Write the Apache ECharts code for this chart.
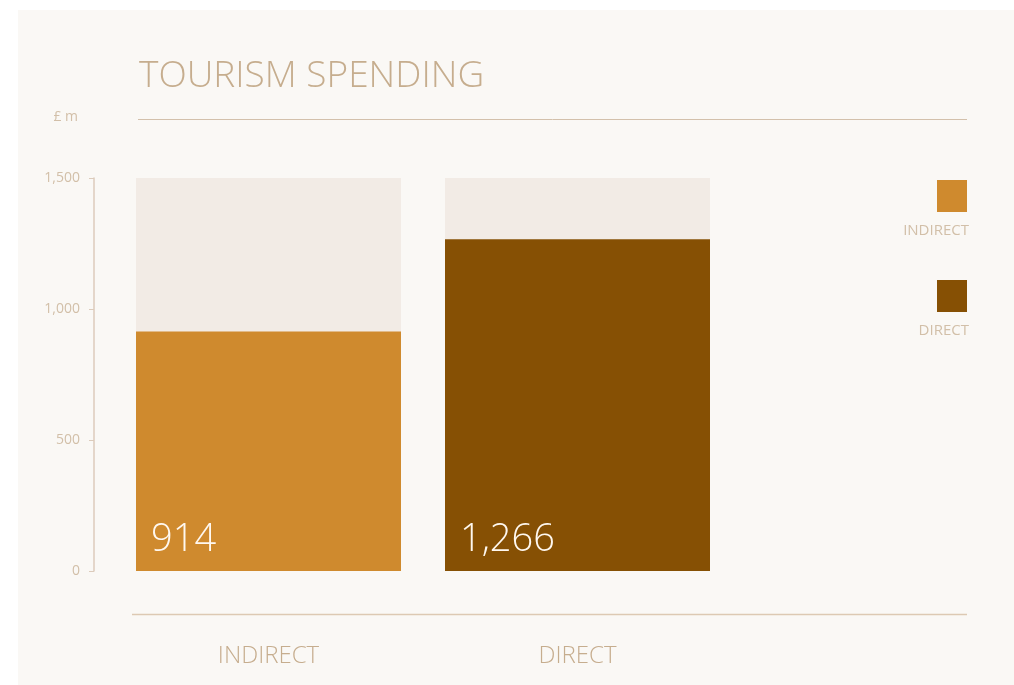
<!DOCTYPE html>
<html>
<head>
<meta charset="utf-8">
<script src="https://cdn.jsdelivr.net/npm/echarts@6/dist/echarts.min.js"></script>
<style>
  html, body { margin: 0; padding: 0; background: #ffffff; }
  #card { position: absolute; left: 18px; top: 10px; width: 996px; height: 675px; background: #faf8f5; }
  #chart { position: absolute; left: 0; top: 0; width: 1014px; height: 685px; }
</style>
</head>
<body>
<div id="card"></div>
<div id="chart"></div>
<script>
const categories = ['INDIRECT', 'DIRECT'];
const spendValues = [914, 1266];
const capValues = [1500, 1500];
const barColors = ['#cf8a2e', '#865004'];

const axisColor = '#dccbbb';
const labelColor = '#d2bfa8';
const titleColor = '#c6ad8e';
const fontFamily = '"Open Sans", Lato, sans-serif';

const chart = echarts.init(document.getElementById('chart'));

chart.setOption({
  backgroundColor: 'transparent',
  animation: false,
  textStyle: { fontFamily },
  title: {
    text: 'TOURISM SPENDING',
    left: 134,
    top: 53,
    textStyle: { fontSize: 37, fontWeight: 300, color: titleColor, fontFamily },
  },
  grid: { left: 114, top: 178, width: 618, bottom: 114 },
  legend: {
    orient: 'vertical',
    right: 40,
    top: 121,
    align: 'right',
    itemWidth: 30,
    itemHeight: 32,
    itemGap: -40,
    icon: 'rect',
    data: categories,
    formatter: (name) => '\n' + name,
    textStyle: { fontSize: 15, lineHeight: 70, color: labelColor, padding: [0, -37, 0, 0] },
  },
  xAxis: {
    type: 'category',
    data: categories,
    axisLine: { show: false },
    axisTick: { show: false },
    axisLabel: { fontSize: 24, color: titleColor, margin: 73, fontWeight: 300 },
  },
  yAxis: {
    type: 'value',
    min: 0,
    max: 1500,
    interval: 500,
    offset: 20,
    name: '£ m',
    nameLocation: 'end',
    nameGap: 54,
    nameTextStyle: { fontSize: 14, color: labelColor, align: 'right', padding: [0, 16, 0, 0] },
    axisLine: { show: true, lineStyle: { color: axisColor, width: 1.5 } },
    axisTick: { show: true, length: 5, lineStyle: { color: axisColor } },
    splitLine: { show: false },
    axisLabel: {
      fontSize: 14,
      color: labelColor,
      margin: 14,
      formatter: (v) => v.toLocaleString('en-GB'),
    },
  },
  series: [
    {
      type: 'bar',
      silent: true,
      barWidth: 265,
      barGap: '-100%',
      itemStyle: { color: '#f2ebe5' },
      data: capValues,
    },
    ...categories.map((name, i) => ({
      name,
      type: 'bar',
      stack: 'spend',
      barWidth: 265,
      itemStyle: { color: barColors[i] },
      label: {
        show: true,
        position: 'insideBottomLeft',
        offset: [10, -7],
        fontSize: 38,
        fontWeight: 300,
        color: '#fff8f0',
        formatter: (p) => p.value.toLocaleString('en-GB'),
      },
      data: categories.map((c, j) => (j === i ? spendValues[i] : '-')),
    })),
  ],
  graphic: [
    {
      type: 'line',
      shape: { x1: 138, y1: 119.5, x2: 967, y2: 119.5 },
      style: { stroke: '#d3c0ab', lineWidth: 1 },
    },
    {
      type: 'line',
      shape: { x1: 132, y1: 614.5, x2: 967, y2: 614.5 },
      style: { stroke: '#ddc9b3', lineWidth: 1.5 },
    },
  ],
});
</script>
</body>
</html>
